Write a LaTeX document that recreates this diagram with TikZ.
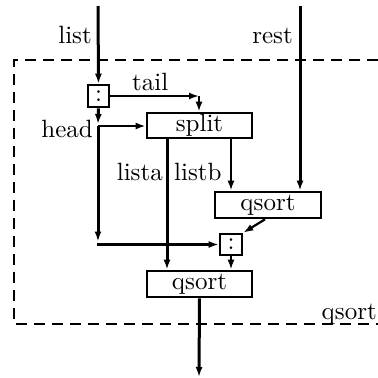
\documentclass[tikz,border=0pt]{standalone}
\usepackage{fontspec}
\setmainfont{lmroman10-regular.otf}
\usetikzlibrary{arrows.meta}
\begin{document}
\begin{tikzpicture}[x=1pt,y=-1pt,
  thickline/.style={line width=3pt},
  thinline/.style={line width=2.2pt},
  arr/.style={-{Latex[length=10pt,width=7pt]}},
  box/.style={draw,line width=2.6pt,inner sep=0pt,font=\fontsize{25}{30}\selectfont},
  lbl/.style={inner sep=0pt,font=\fontsize{25}{30}\selectfont}]
\useasboundingbox (0,0) rectangle (378,378);
% dashed frame
\draw[line width=2.8pt,dash pattern=on 11pt off 7pt] (378,60) -- (14,60) -- (14,324) -- (378,324);
% boxes
\node[box,minimum width=21pt,minimum height=22pt] (c1) at (98.5,96) {:};
\node[box,minimum width=105pt,minimum height=25pt] (split) at (199.5,125.5) {split};
\node[box,minimum width=106pt,minimum height=26pt] (q1) at (268,205) {qsort};
\node[box,minimum width=22pt,minimum height=21pt] (c2) at (231,244.5) {:};
\node[box,minimum width=105pt,minimum height=26pt] (q2) at (199.5,284) {qsort};
% coordinates
\coordinate (listin) at (98,6);
\coordinate (restin) at (300,6);
\coordinate (hd) at (98,126);
\coordinate (hdtip) at (98,124);
\coordinate (corner) at (98,244.5);
\coordinate (cornertip) at (98,241.5);
\coordinate (tl) at (199,96);
\coordinate (out) at (199,377);
% labels
\node[lbl,anchor=base east] (llist) at (92,43) {list};
\node[lbl,anchor=base east] (lrest) at (293,43) {rest};
\node[lbl,anchor=base west] (ltail) at (132,90) {tail};
\node[lbl,anchor=base east] (lhead) at (93,137) {head};
\node[lbl,anchor=base east] (llista) at (163,180) {lista};
\node[lbl,anchor=base west] (llistb) at (174,180) {listb};
\node[lbl,anchor=base east] (lq) at (377,319) {qsort};
% connectors
\draw[thickline,arr] (listin) -- (c1.north);
\draw[thickline,arr] (restin) -- (restin |- q1.north);
\draw[thickline,arr] (c1.south) -- (hdtip);
\draw[thinline,arr] (hd) -- (hd -| split.west);
\draw[thickline,arr] (hd) -- (cornertip);
\draw[thinline,arr] ([xshift=-1pt]corner) -- (c2.west);
\draw[thinline,arr] (c1.east) -- (tl);
\draw[thinline,arr] (tl) -- (split.north -| tl);
\draw[thickline,arr] (split.south -| 167,0) -- (q2.north -| 167,0);
\draw[thinline,arr] (split.south -| 231,0) -- (q1.north -| 231,0);
\draw[thinline,arr] (q1.south -| 265,0) -- (c2.north east);
\draw[thinline,arr] (c2.south) -- (q2.north -| c2.south);
\draw[thickline,arr] (q2.south) -- (out);
\end{tikzpicture}
\end{document}
